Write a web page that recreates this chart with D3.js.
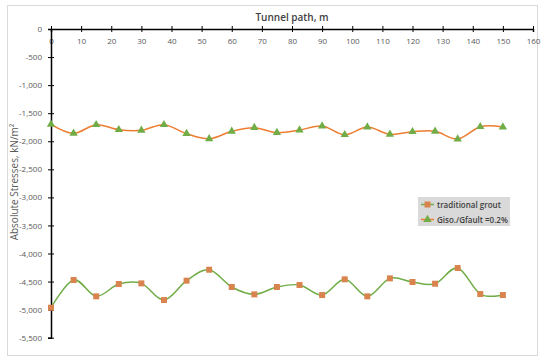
<!DOCTYPE html>
<html>
<head>
<meta charset="utf-8">
<script src="https://cdn.jsdelivr.net/npm/d3@7"></script>
<style>
  body { margin: 0; background: #fff; }
  text { font-family: "Open Sans", "DejaVu Sans", sans-serif; }
</style>
</head>
<body>
<div id="app"></div>
<script>
const distances = [0, 7.5, 15, 22.5, 30, 37.5, 45, 52.5, 60, 67.5, 75, 82.5, 90, 97.5, 105, 112.5, 120, 127.5, 135, 142.5, 150];

const traditionalGrout = [-4966, -4472, -4763, -4544, -4532, -4829, -4484, -4289, -4597, -4728, -4597, -4561,
  -4740, -4460, -4763, -4443, -4508, -4538, -4259, -4722, -4740];

const gisoGfault = [-1698, -1859, -1705, -1794, -1806, -1705, -1865, -1955, -1823, -1758, -1847, -1800,
  -1728, -1883, -1746, -1877, -1830, -1823, -1960, -1741, -1746];

const xTicks = [0, 10, 20, 30, 40, 50, 60, 70, 80, 90, 100, 110, 120, 130, 140, 150, 160];
const yTicks = [0, -500, -1000, -1500, -2000, -2500, -3000, -3500, -4000, -4500, -5000, -5500];

const seriesNames = ['traditional grout', 'Giso./Gfault =0.2%'];

const w = 550;
const h = 363;

const svg = d3.select('#app')
  .append('svg')
  .attr('width', w)
  .attr('height', h);

// chart frame
svg.append('rect')
  .attr('x', 7.5)
  .attr('y', 5.5)
  .attr('width', 530)
  .attr('height', 350)
  .attr('fill', '#fff')
  .attr('stroke', '#d9d9d9');

const xScale = d3.scaleLinear().domain([0, 160]).range([51, 533]);
const yScale = d3.scaleLinear().domain([0, -5500]).range([29, 337.7]);

const fmt = (d) => d3.format(',')(d).replace('\u2212', '-');

/////////AXES//////////
const xAxis = d3.axisBottom(xScale).tickValues(xTicks).tickSize(3).tickPadding(6);
const gx = svg.append('g')
  .attr('transform', 'translate(0,' + yScale(0) + ')')
  .call(xAxis);
gx.select('.domain').attr('stroke', '#000').attr('stroke-width', 1.5);
gx.selectAll('.tick line').attr('y1', -3).attr('y2', 3).attr('stroke', '#000');
gx.selectAll('.tick text')
  .attr('fill', '#595959')
  .style('font-size', '8px');

const yAxis = d3.axisLeft(yScale).tickValues(yTicks).tickFormat(fmt).tickSize(3).tickPadding(6);
const gy = svg.append('g')
  .attr('transform', 'translate(' + xScale(0) + ',0)')
  .call(yAxis);
gy.select('.domain').attr('stroke', '#000').attr('stroke-width', 1.5);
gy.selectAll('.tick line').attr('x1', -3).attr('x2', 3).attr('stroke', '#000');
gy.selectAll('.tick text')
  .attr('fill', '#595959')
  .style('font-size', '8px');

svg.append('text')
  .attr('x', (xScale(0) + xScale(160)) / 2)
  .attr('y', 21)
  .attr('text-anchor', 'middle')
  .attr('fill', '#404040')
  .style('font-size', '10px')
  .style('font-weight', 600)
  .text('Tunnel path, m');

svg.append('text')
  .attr('transform', 'translate(18,' + 182 + ') rotate(-90)')
  .attr('text-anchor', 'middle')
  .attr('fill', '#595959')
  .style('font-size', '10px')
  .text('Absolute Stresses, kN/m\u00B2');

//////////LINES//////////
const line = d3.line()
  .x((d, i) => xScale(distances[i]))
  .y((d) => yScale(d))
  .curve(d3.curveCardinal.tension(0));

svg.append('path')
  .datum(traditionalGrout)
  .attr('d', line)
  .attr('fill', 'none')
  .attr('stroke', '#70AD47')
  .attr('stroke-width', 1.5);

svg.append('path')
  .datum(gisoGfault)
  .attr('d', line)
  .attr('fill', 'none')
  .attr('stroke', '#ED7D31')
  .attr('stroke-width', 1.5);

const squareColor = '#D9844F';
const triColor = '#70AD47';
const square = d3.symbol().type(d3.symbolSquare).size(36);
const tri = d3.symbol().type(d3.symbolTriangle).size(30);

svg.selectAll('.sq')
  .data(traditionalGrout)
  .enter()
  .append('path')
  .attr('class', 'sq')
  .attr('d', square)
  .attr('transform', (d, i) => 'translate(' + xScale(distances[i]) + ',' + yScale(d) + ')')
  .attr('fill', squareColor);

svg.selectAll('.tri')
  .data(gisoGfault)
  .enter()
  .append('path')
  .attr('class', 'tri')
  .attr('d', tri)
  .attr('transform', (d, i) => 'translate(' + xScale(distances[i]) + ',' + yScale(d) + ')')
  .attr('fill', triColor);

//////////LEGEND//////////
const legend = svg.append('g').attr('transform', 'translate(418,197)');
legend.append('rect')
  .attr('width', 92)
  .attr('height', 29)
  .attr('fill', '#d9d9d9');

const legendLines = ['#70AD47', '#ED7D31'];
const legendMarkers = [square, tri];
const legendFills = [squareColor, triColor];

seriesNames.forEach((name, i) => {
  const y = 7.5 + i * 15;
  legend.append('line')
    .attr('x1', 3).attr('x2', 16)
    .attr('y1', y).attr('y2', y)
    .attr('stroke', legendLines[i])
    .attr('stroke-width', 1.5);
  legend.append('path')
    .attr('d', legendMarkers[i])
    .attr('transform', 'translate(9.5,' + y + ')')
    .attr('fill', legendFills[i]);
  legend.append('text')
    .attr('x', 19)
    .attr('y', y + 3)
    .attr('fill', '#404040')
    .style('font-size', '8px')
    .style('font-weight', 600)
    .text(name);
});
</script>
</body>
</html>
